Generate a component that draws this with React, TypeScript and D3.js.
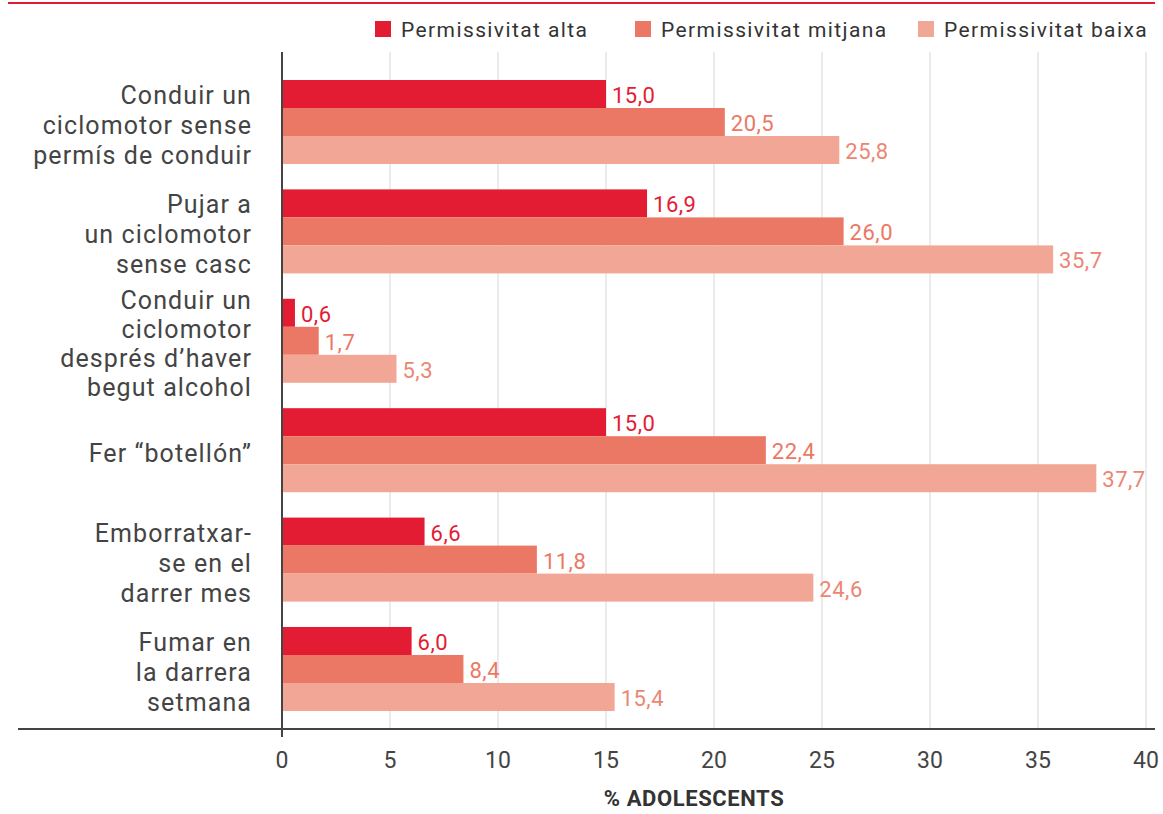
import React, { useEffect, useRef } from 'react';
import * as d3 from 'd3';

const categories = [
  ['Conduir un', 'ciclomotor sense', 'permís de conduir'],
  ['Pujar a', 'un ciclomotor', 'sense casc'],
  ['Conduir un', 'ciclomotor', 'després d’haver', 'begut alcohol'],
  ['Fer “botellón”'],
  ['Emborratxar-', 'se en el', 'darrer mes'],
  ['Fumar en', 'la darrera', 'setmana'],
];
const seriesNames = ['Permissivitat alta', 'Permissivitat mitjana', 'Permissivitat baixa'];
const alta = [15.0, 16.9, 0.6, 15.0, 6.6, 6.0];
const mitjana = [20.5, 26.0, 1.7, 22.4, 11.8, 8.4];
const baixa = [25.8, 35.7, 5.3, 37.7, 24.6, 15.4];
const xTicks = [0, 5, 10, 15, 20, 25, 30, 35, 40];

const barColors = ['#e31c34', '#eb7865', '#f2a796'];
const labelColors = ['#e31c34', '#eb7865', '#ec8674'];

const App: React.FC = () => {
  const chartRef = useRef<SVGSVGElement | null>(null);

  useEffect(() => {
    const width = 1163;
    const margin = { top: 67.3, right: 17, left: 282 };
    const plotBottom = 723.7;
    const series = [alta, mitjana, baixa];

    const svg = d3.select(chartRef.current);
    svg.selectAll('*').remove();

    const x = d3.scaleLinear().domain([0, 40]).range([margin.left, width - margin.right]);
    const y0 = d3
      .scaleBand<number>()
      .domain(d3.range(categories.length))
      .range([margin.top, plotBottom])
      .paddingInner(0.232)
      .paddingOuter(0.116);
    const y1 = d3.scaleBand<number>().domain([0, 1, 2]).range([0, y0.bandwidth()]);

    // top rule
    svg.append('line').attr('x1', 8).attr('x2', 1155).attr('y1', 3).attr('y2', 3)
      .attr('stroke', '#e31c34').attr('stroke-width', 2);

    // legend
    const legendX = [375, 635, 918];
    const legend = svg.append('g');
    seriesNames.forEach((name, i) => {
      legend.append('rect').attr('x', legendX[i]).attr('y', 21).attr('width', 16).attr('height', 16).attr('fill', barColors[i]);
      legend.append('text').attr('x', legendX[i] + 26).attr('y', 37)
        .style('font-family', 'Roboto, sans-serif')
        .style('font-size', '21px').style('letter-spacing', '1.4px')
        .attr('fill', '#333').text(name);
    });

    // grid
    svg.append('g').selectAll('line').data(xTicks.slice(1)).enter().append('line')
      .attr('x1', (d) => x(d)).attr('x2', (d) => x(d))
      .attr('y1', 52).attr('y2', 728)
      .attr('stroke', '#ebebeb').attr('stroke-width', 2);

    // bars
    const groups = svg.append('g').selectAll('g').data(categories).enter().append('g')
      .attr('transform', (_d, i) => `translate(0,${y0(i)})`);

    series.forEach((vals, s) => {
      groups.append('rect')
        .attr('x', x(0))
        .attr('y', y1(s)!)
        .attr('width', (_d, i) => x(vals[i]) - x(0))
        .attr('height', y1.bandwidth())
        .attr('fill', barColors[s]);
      groups.append('text')
        .attr('x', (_d, i) => x(vals[i]) + 6)
        .attr('y', y1(s)! + y1.bandwidth() / 2 + 9)
        .style('font-family', 'Roboto, sans-serif')
        .style('font-size', '22px')
        .style('letter-spacing', '0.5px')
        .attr('fill', labelColors[s])
        .text((_d, i) => vals[i].toFixed(1).replace('.', ','));
    });

    // category labels
    groups.each(function (lines) {
      const g = d3.select(this);
      const lh = lines.length > 3 ? 29 : 30;
      const cy = y0.bandwidth() / 2;
      const startY = cy - ((lines.length - 1) * lh) / 2;
      lines.forEach((line, j) => {
        g.append('text')
          .attr('x', 252)
          .attr('y', startY + j * lh + 12)
          .attr('text-anchor', 'end')
          .style('font-family', 'Roboto, sans-serif')
          .style('font-size', '25px')
          .style('letter-spacing', '1.1px')
          .attr('fill', '#444')
          .text(line);
      });
    });

    // axes lines
    svg.append('line').attr('x1', x(0)).attr('x2', x(0)).attr('y1', 52).attr('y2', 737)
      .attr('stroke', '#444').attr('stroke-width', 2);
    svg.append('line').attr('x1', 18).attr('x2', 1155).attr('y1', 729).attr('y2', 729)
      .attr('stroke', '#444').attr('stroke-width', 2);

    // x tick labels
    svg.append('g').selectAll('text').data(xTicks).enter().append('text')
      .attr('x', (d) => x(d)).attr('y', 768)
      .attr('text-anchor', 'middle')
      .style('font-family', 'Roboto, sans-serif')
      .style('font-size', '23px').attr('fill', '#444')
      .text((d) => d);

    svg.append('text').attr('x', 694).attr('y', 806).attr('text-anchor', 'middle')
      .style('font-family', 'Roboto, sans-serif')
      .style('font-size', '22px').style('font-weight', 'bold')
      .style('letter-spacing', '0.6px').attr('fill', '#333')
      .text('% ADOLESCENTS');
  }, []);

  return (
    <svg
      ref={chartRef}
      width={1163}
      height={814}
      style={{ position: 'absolute', top: 0, left: 0, background: '#fff' }}
    />
  );
};

export default App;
